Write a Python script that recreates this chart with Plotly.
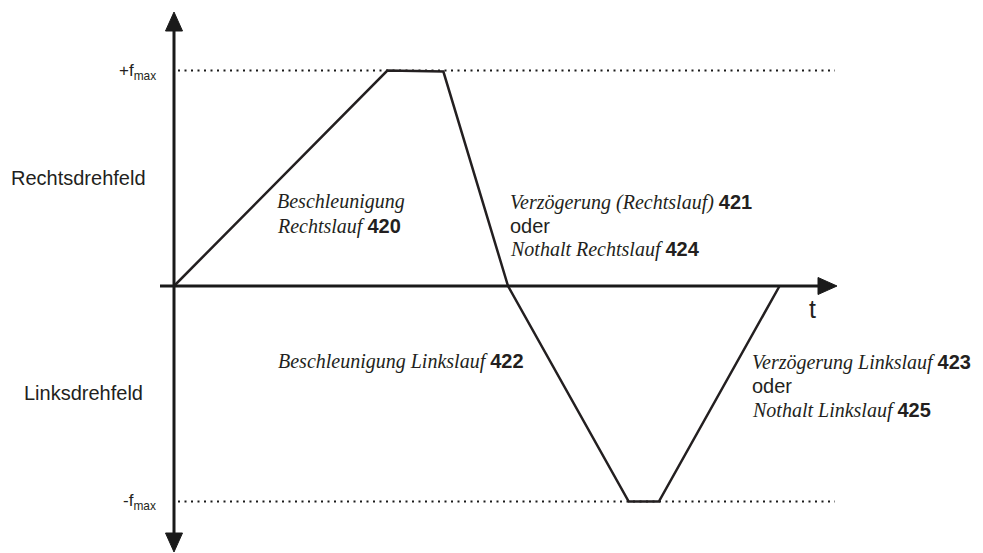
import plotly.graph_objects as go

# frequency profile: time (arbitrary units) vs. frequency (in units of f_max)
t_pts = [0, 0.99, 1.25, 1.55, 2.11, 2.25, 2.81]
f_pts = [0, 1.0, 0.995, 0, -1.0, -1.0, 0]
f_max = 1.0

# text of the labels
side_labels = ["Rechtsdrehfeld", "Linksdrehfeld"]
level_labels = ["+f<sub>max</sub>", "-f<sub>max</sub>"]
phase_labels = [
    ("Beschleunigung", None),
    ("Rechtslauf", "420"),
    ("Verzögerung (Rechtslauf)", "421"),
    ("oder", None),
    ("Nothalt Rechtslauf", "424"),
    ("Beschleunigung Linkslauf", "422"),
    ("Verzögerung Linkslauf", "423"),
    ("oder", None),
    ("Nothalt Linkslauf", "425"),
]
# left / middle position (page pixels) of each phase label line
phase_pos = [(275, 201), (275, 227), (508, 202), (508, 226), (508, 249),
             (276, 361), (750, 362), (750, 386), (750, 410)]

W, H = 983, 553
OFF = 8                       # page body margin around the plot
X0, Y0, S = 174, 286, 215.5   # axis origin in page pixels, pixels per unit
TXT = '#231f20'
AX = '#1a1a1a'


def px_x(p):
    return (p - X0) / S


def px_y(p):
    return (Y0 - p) / S


fig = go.Figure()

# dotted +/- f_max levels
for lvl in [f_max, -f_max]:
    fig.add_trace(go.Scatter(
        x=[px_x(178), px_x(835)], y=[lvl, lvl], mode='lines',
        line=dict(color=AX, width=2, dash='2px,4.5px'),
        showlegend=False, hoverinfo='skip'
    ))

# the frequency curve
fig.add_trace(go.Scatter(
    x=t_pts, y=f_pts, mode='lines',
    line=dict(color=TXT, width=2.5),
    showlegend=False, hoverinfo='skip'
))

# axes drawn as arrows
fig.add_shape(type='line', x0=0, x1=0, y0=px_y(536), y1=px_y(28),
              line=dict(color=AX, width=3))
fig.add_shape(type='line', x0=px_x(160), x1=px_x(822), y0=0, y1=0,
              line=dict(color=AX, width=3))


def tri(pts):
    return 'M ' + ' L '.join(f'{a},{b}' for a, b in pts) + ' Z'


fig.add_shape(type='path', fillcolor=AX, line=dict(color=AX, width=1),
              path=tri([(0, px_y(12)), (px_x(165.5), px_y(31)), (px_x(182.5), px_y(31))]))
fig.add_shape(type='path', fillcolor=AX, line=dict(color=AX, width=1),
              path=tri([(0, px_y(552)), (px_x(165.5), px_y(533)), (px_x(182.5), px_y(533))]))
fig.add_shape(type='path', fillcolor=AX, line=dict(color=AX, width=1),
              path=tri([(px_x(837), 0), (px_x(818), px_y(277.5)), (px_x(818), px_y(294.5))]))


def label(text, px, py, size=20, family='Liberation Sans', anchor='left'):
    fig.add_annotation(
        x=(px - OFF) / W, y=1 - (py - OFF) / H, xref='paper', yref='paper', text=text,
        showarrow=False, xanchor=anchor, yanchor='middle',
        font=dict(family=family, size=size, color=TXT)
    )


label(side_labels[0], 9, 178)
label(side_labels[1], 22, 393)
label(level_labels[0], 158, 72, size=17, anchor='right')
label(level_labels[1], 158, 502, size=17, anchor='right')
label('t', 812, 309, size=25, anchor='center')

for (txt, num), (px, py) in zip(phase_labels, phase_pos):
    if txt == 'oder':
        label(txt, px, py)
        continue
    s = f'<i>{txt}</i>'
    if num:
        s += f" <span style='font-family:Liberation Sans'><b>{num}</b></span>"
    label(s, px, py, family='Liberation Serif')

fig.update_layout(
    width=W, height=H, autosize=False,
    margin=dict(l=0, r=0, t=0, b=0),
    paper_bgcolor='white', plot_bgcolor='white',
    xaxis=dict(visible=False, range=[px_x(OFF), px_x(W + OFF)], fixedrange=True),
    yaxis=dict(visible=False, range=[px_y(H + OFF), px_y(OFF)], fixedrange=True),
    showlegend=False
)

fig.write_html("out.html")
